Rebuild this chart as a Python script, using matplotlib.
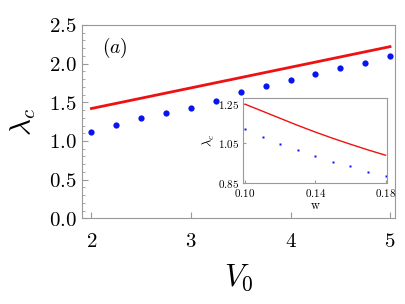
import matplotlib
matplotlib.use("Agg")
import matplotlib.pyplot as plt
from matplotlib.ticker import FuncFormatter, MultipleLocator

plt.rcParams['mathtext.fontset'] = 'cm'
plt.rcParams['font.family'] = 'serif'
plt.rcParams['font.serif'] = ['DejaVu Serif']

# Main data
v0_points = [2.0, 2.25, 2.5, 2.75, 3.0, 3.25, 3.5, 3.75, 4.0, 4.25, 4.5, 4.75, 5.0]
lam_points = [1.12, 1.21, 1.30, 1.36, 1.43, 1.52, 1.63, 1.71, 1.79, 1.87, 1.94, 2.01, 2.10]
v0_line = [2.0, 3.5, 5.0]
lam_line = [1.42, 1.82, 2.22]

# Inset data
w_points = [0.10, 0.11, 0.12, 0.13, 0.14, 0.15, 0.16, 0.17, 0.18]
lamw_points = [1.126, 1.085, 1.045, 1.015, 0.985, 0.955, 0.935, 0.903, 0.883]
w_line = [0.10, 0.11, 0.12, 0.13, 0.14, 0.15, 0.16, 0.17, 0.18]
lamw_line = [1.25, 1.214, 1.178, 1.142, 1.108, 1.076, 1.046, 1.017, 0.99]

main_xticks = [2, 3, 4, 5]
main_yticks = [0.0, 0.5, 1.0, 1.5, 2.0, 2.5]
inset_xticks = [0.10, 0.14, 0.18]
inset_yticks = [0.85, 1.05, 1.25]

fig = plt.figure(figsize=(4.06, 3.04), dpi=100)
ax = fig.add_axes([82/406, 1-218.3/304, (395-82)/406, (218.3-25)/304])

frame = '#999999'
ax.plot(v0_line, lam_line, color='#ee1111', lw=2.0)
ax.plot(v0_points, lam_points, 'o', color='#0a14f0', ms=4.5, mec='none')
ax.set_xlim(1.905, 5.05)
ax.set_ylim(0, 2.5)
ax.set_xticks(main_xticks)
ax.set_yticks(main_yticks)
ax.yaxis.set_minor_locator(MultipleLocator(0.1))
ax.xaxis.set_major_formatter(FuncFormatter(lambda v, p: r'$%d$' % v))
ax.yaxis.set_major_formatter(FuncFormatter(lambda v, p: r'$%.1f$' % v))
ax.tick_params(which='both', direction='in', color=frame, labelsize=15)
ax.tick_params(axis='x', pad=10)
ax.tick_params(axis='y', pad=4)
ax.tick_params(which='major', length=4)
ax.tick_params(which='minor', length=2)
ax.tick_params(axis='y', which='both', right=False)
for s in ax.spines.values():
    s.set_color(frame)
ax.set_xlabel(r'$V_0$', fontsize=22, labelpad=8)
ax.set_ylabel(r'$\lambda_c$', fontsize=21, labelpad=8)
ax.text(0.064, 0.88, r'$(a)$', transform=ax.transAxes, fontsize=14, ha='left', va='center')

# Inset
ins = fig.add_axes([243.3/406, 1-182.7/304, (387.3-243.3)/406, (182.7-98.3)/304])
ins.plot(w_line, lamw_line, color='#ee1111', lw=1.0)
ins.plot(w_points, lamw_points, 's', color='#0a14f0', ms=1.7, mec='none')
ins.set_xlim(0.099, 0.181)
ins.set_ylim(0.855, 1.28)
ins.set_xticks(inset_xticks)
ins.set_yticks(inset_yticks)
ins.xaxis.set_major_formatter(FuncFormatter(lambda v, p: r'$%.2f$' % v))
ins.yaxis.set_major_formatter(FuncFormatter(lambda v, p: r'$%.2f$' % v))
ins.tick_params(which='both', direction='in', color=frame, labelsize=8, length=2, pad=3)
for s in ins.spines.values():
    s.set_color(frame)
ins.set_xlabel(r'$\mathrm{w}$', fontsize=9, labelpad=0)
ins.set_ylabel(r'$\lambda_c$', fontsize=9, labelpad=1)

fig.savefig('out.png', dpi=100)
